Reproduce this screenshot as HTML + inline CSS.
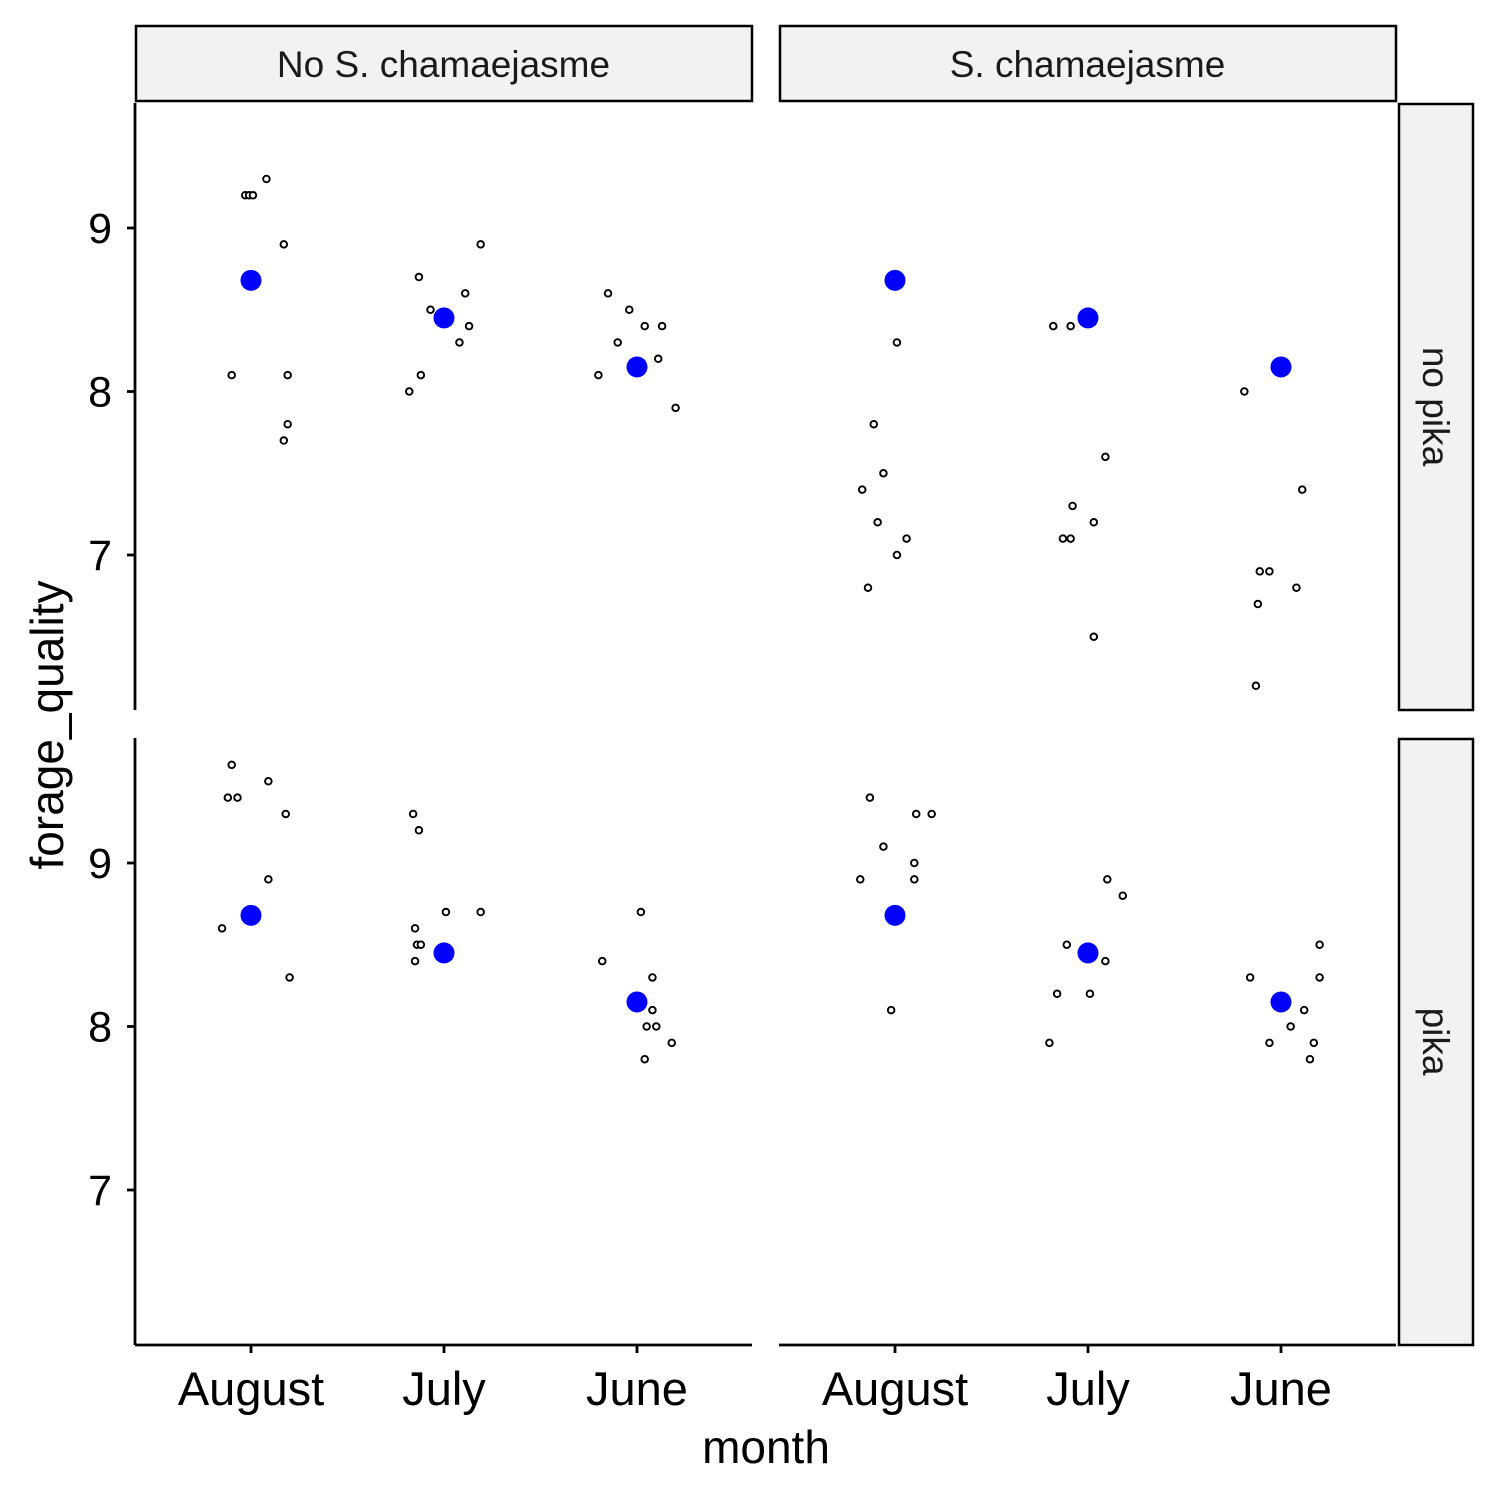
<!DOCTYPE html>
<html><head><meta charset="utf-8"><style>
html,body{margin:0;padding:0;background:#fff;}
svg{display:block;font-family:"Liberation Sans",Arial,sans-serif;}
</style></head><body>
<svg id="chart" width="1500" height="1500" viewBox="0 0 1500 1500" xmlns="http://www.w3.org/2000/svg"></svg>
<script>
const months = ["August","July","June"];
const facetCols = ["No S. chamaejasme","S. chamaejasme"];
const facetRows = ["no pika","pika"];
const yTicks = [7,8,9];
const meanValues = [8.68,8.45,8.15];
const tlAug=[9.3,9.2,9.2,9.2,8.9,8.1,8.1,7.8,7.7], tlAugJ=[.08,-.03,-.01,.01,.17,-.10,.19,.19,.17];
const tlJul=[8.7,8.5,8.6,8.4,8.3,8.1,8.0,8.9], tlJulJ=[-.13,-.07,.11,.13,.08,-.12,-.18,.19];
const tlJun=[8.6,8.5,8.3,8.4,8.4,8.2,8.1,7.9], tlJunJ=[-.15,-.04,-.10,.04,.13,.11,-.20,.20];
const trAug=[8.3,7.8,7.5,7.4,7.2,7.1,7.0,6.8], trAugJ=[.01,-.11,-.06,-.17,-.09,.06,.01,-.14];
const trJul=[8.4,8.4,7.6,7.3,7.2,7.1,7.1,6.5], trJulJ=[-.18,-.09,.09,-.08,.03,-.13,-.09,.03];
const trJun=[8.0,7.4,6.9,6.9,6.8,6.7,6.2], trJunJ=[-.19,.11,-.11,-.06,.08,-.12,-.13];
const blAug=[9.6,9.4,9.4,9.5,9.3,8.9,8.6,8.3], blAugJ=[-.10,-.12,-.07,.09,.18,.09,-.15,.20];
const blJul=[9.3,9.2,8.7,8.7,8.6,8.5,8.5,8.4], blJulJ=[-.16,-.13,.01,.19,-.15,-.14,-.12,-.15];
const blJun=[8.7,8.4,8.3,8.1,8.0,8.0,7.9,7.8], blJunJ=[.02,-.18,.08,.08,.05,.10,.18,.04];
const brAug=[9.4,9.1,9.3,9.3,9.0,8.9,8.9,8.1], brAugJ=[-.13,-.06,.11,.19,.10,-.18,.10,-.02];
const brJul=[8.9,8.8,8.5,8.4,8.2,8.2,7.9], brJulJ=[.10,.18,-.11,.09,-.16,.01,-.20];
const brJun=[8.3,8.5,8.3,8.1,8.0,7.9,7.9,7.8], brJunJ=[-.16,.20,.20,.12,.05,-.06,.17,.15];

const panels=[[[[tlAug,tlAugJ],[tlJul,tlJulJ],[tlJun,tlJunJ]],[[trAug,trAugJ],[trJul,trJulJ],[trJun,trJunJ]]],
[[[blAug,blAugJ],[blJul,blJulJ],[blJun,blJunJ]],[[brAug,brAugJ],[brJul,brJulJ],[brJun,brJunJ]]]];

const NS="http://www.w3.org/2000/svg";
const svg=document.getElementById('chart');
function mk(tag,attrs,parent){const e=document.createElementNS(NS,tag);for(const k in attrs)e.setAttribute(k,attrs[k]);(parent||svg).appendChild(e);return e;}
const colX0=[135,779], panelW=617, rowY0=103, rowGap=635, panelH=607;
const catStep=193;
function xPos(col,i,j){return colX0[col]+116+i*catStep+j*catStep;}
function yPos(row,v){return rowY0+row*rowGap+125+(9-v)*163.5;}

for(let c=0;c<2;c++){
  const r=mk('rect',{x:colX0[c]+1,y:26,width:panelW-1,height:75,fill:'#f2f2f2',stroke:'#000','stroke-width':2.5});
  
  
  const t=mk('text',{x:colX0[c]+panelW/2,y:77,'text-anchor':'middle','font-size':37,fill:'#1a1a1a'});
  t.textContent=facetCols[c];
  
  
}
for(let r=0;r<2;r++){
  const y0=rowY0+r*rowGap;
  const rr=mk('rect',{x:1399,y:y0+1,width:74,height:panelH-1,fill:'#f2f2f2',stroke:'#000','stroke-width':2.5});
  
  
  const t=mk('text',{x:0,y:0,'text-anchor':'middle','font-size':37,fill:'#1a1a1a',transform:`translate(1423,${y0+panelH/2}) rotate(90)`});
  t.textContent=facetRows[r];
  
  
}
for(let r=0;r<2;r++){
  const y0=rowY0+r*rowGap;
  const a=mk('line',{x1:135,y1:y0,x2:135,y2:y0+panelH,stroke:'#000','stroke-width':2.8});
  
  
  yTicks.forEach(v=>{
    const y=yPos(r,v);
    const tk=mk('line',{x1:127,y1:y,x2:135,y2:y,stroke:'#000','stroke-width':2.8});
    
    
    const tl=mk('text',{x:112,y:y+15,'text-anchor':'end','font-size':43,fill:'#000'});
    tl.textContent=v;
    
    
  });
}
for(let c=0;c<2;c++){
  const ax=mk('line',{x1:colX0[c],y1:1345,x2:colX0[c]+panelW,y2:1345,stroke:'#000','stroke-width':2.8});
  
  
  months.forEach((m,i)=>{
    const x=xPos(c,i,0);
    const tk=mk('line',{x1:x,y1:1345,x2:x,y2:1353,stroke:'#000','stroke-width':2.8});
    
    
    const tl=mk('text',{x:x,y:1405,'text-anchor':'middle','font-size':47,fill:'#000'});
    tl.textContent=m;
    
    
  });
}
const xt=mk('text',{x:766,y:1463,'text-anchor':'middle','font-size':46,fill:'#000'});
xt.textContent='month';


const yt=mk('text',{x:0,y:0,'text-anchor':'middle','font-size':46,fill:'#000',transform:'translate(63,725) rotate(-90)'});
yt.textContent='forage_quality';



for(let r=0;r<2;r++)for(let c=0;c<2;c++)for(let i=0;i<3;i++){
  const [vals,jit]=panels[r][c][i];
  vals.forEach((v,k)=>{
    const p=mk('circle',{cx:xPos(c,i,jit[k]),cy:yPos(r,v),r:3.3,fill:'#fff',stroke:'#000','stroke-width':1.9});
    
    
  });
  const m=mk('circle',{cx:xPos(c,i,0),cy:yPos(r,meanValues[i]),r:10.5,fill:'#0000ff'});
  
  
}
</script>
</body></html>
